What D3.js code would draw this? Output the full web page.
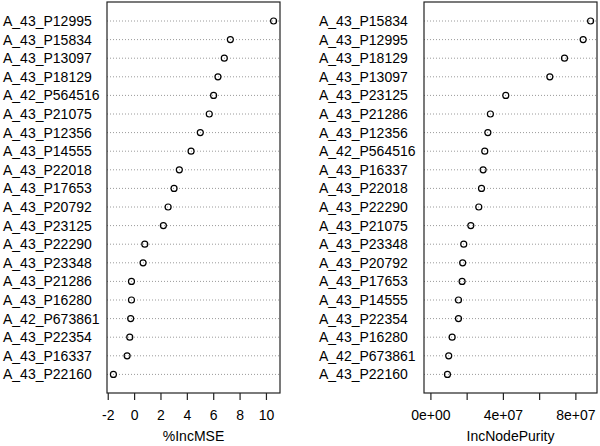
<!DOCTYPE html>
<html>
<head>
<meta charset="utf-8">
<script src="https://cdn.jsdelivr.net/npm/d3@7"></script>
<style>
  body { margin: 0; background: #fff; }
  svg { font-family: "Liberation Sans", Arial, sans-serif; }
</style>
</head>
<body>
<div id="chart"></div>
<script>
// %IncMSE panel
var mseLabels = ["A_43_P12995", "A_43_P15834", "A_43_P13097", "A_43_P18129", "A_42_P564516",
  "A_43_P21075", "A_43_P12356", "A_43_P14555", "A_43_P22018", "A_43_P17653",
  "A_43_P20792", "A_43_P23125", "A_43_P22290", "A_43_P23348", "A_43_P21286",
  "A_43_P16280", "A_42_P673861", "A_43_P22354", "A_43_P16337", "A_43_P22160"];
var mseValues = [10.58, 7.30, 6.84, 6.36, 6.03, 5.70, 5.02, 4.32, 3.43, 3.03,
  2.58, 2.22, 0.81, 0.68, -0.20, -0.20, -0.26, -0.33, -0.53, -1.57];
var mseTicks = [-2, 0, 2, 4, 6, 8, 10];

// IncNodePurity panel
var purityLabels = ["A_43_P15834", "A_43_P12995", "A_43_P18129", "A_43_P13097", "A_43_P23125",
  "A_43_P21286", "A_43_P12356", "A_42_P564516", "A_43_P16337", "A_43_P22018",
  "A_43_P22290", "A_43_P21075", "A_43_P23348", "A_43_P20792", "A_43_P17653",
  "A_43_P14555", "A_43_P22354", "A_43_P16280", "A_42_P673861", "A_43_P22160"];
var purityValues = [8.84e7, 8.43e7, 7.40e7, 6.59e7, 4.16e7, 3.31e7, 3.17e7, 3.00e7, 2.91e7, 2.82e7,
  2.67e7, 2.23e7, 1.84e7, 1.78e7, 1.75e7, 1.55e7, 1.55e7, 1.20e7, 1.01e7, 0.94e7];
var purityTicks = [0, 2e7, 4e7, 6e7, 8e7];
var purityTickLabels = ["0e+00", "", "4e+07", "", "8e+07"];

var W = 600, H = 446;
var svg = d3.select("#chart").append("svg").attr("width", W).attr("height", H);

function dotPanel(opt) {
  var lo = opt.xmin, hi = d3.max(opt.values);
  var ext = (hi - lo) * 0.04;
  var x = d3.scaleLinear().domain([lo - ext, hi + ext]).range([opt.left, opt.right]);
  var y = d3.scalePoint().domain(opt.labels).range([21, 374.4]);
  var top = 2, bottom = 393;

  var g = svg.append("g");

  // dotted guide lines
  g.selectAll(".guide").data(opt.labels).join("line")
    .attr("class", "guide")
    .attr("x1", opt.left).attr("x2", opt.right)
    .attr("y1", d => y(d)).attr("y2", d => y(d))
    .attr("stroke", "#9a9a9a").attr("stroke-width", 1)
    .attr("stroke-dasharray", "1,2");

  // points
  g.selectAll(".pt").data(opt.values).join("circle")
    .attr("class", "pt")
    .attr("cx", d => x(d))
    .attr("cy", (d, i) => y(opt.labels[i]))
    .attr("r", 3)
    .attr("fill", "none").attr("stroke", "#000").attr("stroke-width", 1.2);

  // labels, left aligned
  g.selectAll(".lab").data(opt.labels).join("text")
    .attr("class", "lab")
    .attr("x", opt.labelX)
    .attr("y", d => y(d) + 5)
    .attr("font-size", 14)
    .text(d => d);

  // box
  g.append("rect")
    .attr("x", opt.left).attr("y", top)
    .attr("width", opt.right - opt.left).attr("height", bottom - top)
    .attr("fill", "none").attr("stroke", "#222").attr("stroke-width", 1.2);

  // x axis
  var axis = g.append("g")
    .attr("transform", "translate(0," + bottom + ")")
    .call(d3.axisBottom(x).tickValues(opt.ticks).tickSize(7)
      .tickFormat((d, i) => opt.tickLabels[i]));
  axis.select(".domain").remove();
  axis.selectAll(".tick line").attr("stroke", "#222").attr("stroke-width", 1.2);
  axis.selectAll(".tick text")
    .attr("y", 27).attr("dy", null)
    .attr("font-size", 14).attr("font-family", "Liberation Sans, Arial, sans-serif")
    .attr("fill", "#000");

  g.append("text")
    .attr("x", (opt.left + opt.right) / 2)
    .attr("y", 441)
    .attr("text-anchor", "middle")
    .attr("font-size", 14)
    .text(opt.title);
}

dotPanel({
  labels: mseLabels, values: mseValues, xmin: d3.min(mseValues),
  left: 107, right: 280, labelX: 3,
  ticks: mseTicks, tickLabels: mseTicks.map(String), title: "%IncMSE"
});

dotPanel({
  labels: purityLabels, values: purityValues, xmin: 0,
  left: 424, right: 597, labelX: 319,
  ticks: purityTicks, tickLabels: purityTickLabels, title: "IncNodePurity"
});
</script>
</body>
</html>
